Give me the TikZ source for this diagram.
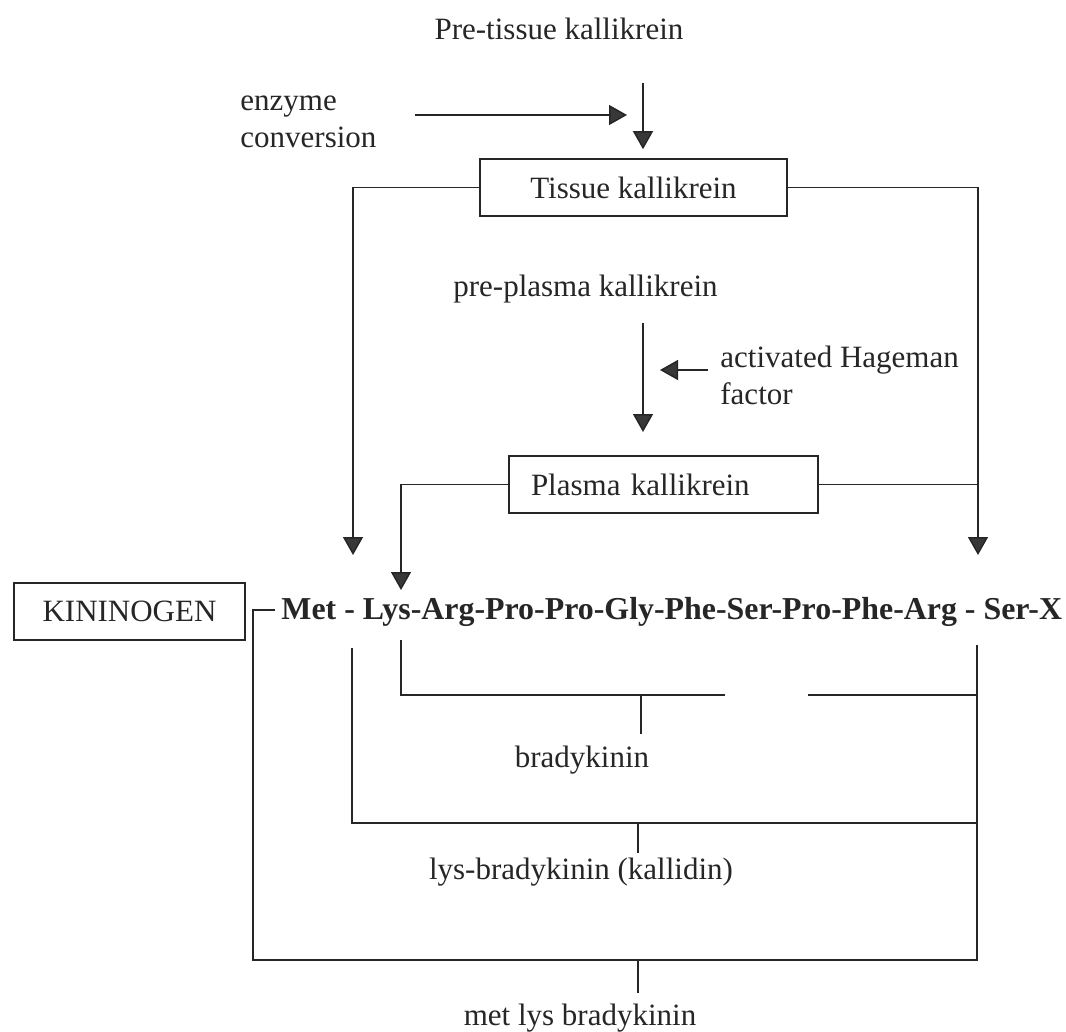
\documentclass[tikz,border=0pt]{standalone}
\usepackage{fontspec}
\setmainfont{Liberation Serif}
\usetikzlibrary{arrows.meta}
\definecolor{ink}{HTML}{262626}
\definecolor{tipfill}{HTML}{383838}
\tikzset{
  lbl/.style={inner sep=0pt, text=ink, font=\fontsize{15.5}{18.5}\selectfont},
  box/.style={draw=ink, line width=0.8pt, inner sep=0pt, minimum height=28.5pt},
  link/.style={draw=ink, line width=0.75pt},
  arr/.style={link, -{Triangle[width=10pt,length=9pt,fill=tipfill]}},
}
\begin{document}
\begin{tikzpicture}[x=0.5pt,y=-0.5pt]
\useasboundingbox (0,0) rectangle (1066,1032);

% labels
\node[lbl] (pretissue) at (559,29) {Pre-tissue kallikrein};
\node[lbl, anchor=west, align=left] (enzyme) at (240,122) {enzyme\\conversion};
\node[lbl] (preplasma) at (585.5,289) {pre-plasma kallikrein};
\node[lbl, anchor=west, align=left] (hageman) at (720,375) {activated Hageman\\factor};

% boxes
\node[box, lbl, draw=ink, minimum width=153.5pt, minimum height=28.5pt] (tissue) at (633.5,187.5) {Tissue kallikrein};
\node[box, lbl, draw=ink, minimum width=154.5pt, minimum height=28.5pt,
      text width=132.5pt, align=left, inner xsep=11pt] (plasma) at (663.5,484.5) {Plasma kallikrein};
\node[box, lbl, draw=ink, minimum width=115.5pt, minimum height=28.5pt] (kininogen) at (129.5,611.5) {KININOGEN};

% peptide chain
\node[lbl, anchor=west, font=\fontsize{15.95}{18.5}\selectfont\bfseries] (chain) at (281,612)
  {Met - Lys-Arg-Pro-Pro-Gly-Phe-Ser-Pro-Phe-Arg - Ser-X};

% product labels
\node[lbl] (brady) at (582,760) {bradykinin};
\node[lbl] (kallidin) at (581,872) {lys-bradykinin (kallidin)};
\node[lbl] (metlys) at (580,1018) {met lys bradykinin};

% free ends of connectors
\coordinate (ecA) at (415,115);
\coordinate (ecB) at (627,115);
\coordinate (ptA) at (643,83);
\coordinate (ppA) at (643,323);
\coordinate (ppB) at (643,432);
\coordinate (hgA) at (708,370);
\coordinate (hgB) at (660,370);
\coordinate (tkL) at (353,555);
\coordinate (tkR) at (978,555);
\coordinate (pkL) at (401,590);

% activation steps
\draw[arr] (ecA) -- (ecB);
\draw[arr, shorten >=4.5pt] (ptA) -- (ptA |- tissue.north);
\draw[arr] (ppA) -- (ppB);
\draw[arr] (hgA) -- (hgB);

% kallikreins acting on the chain
\draw[arr] (tissue.west) -| (tkL);
\draw[arr] (tissue.east) -| (tkR);
\draw[arr] (plasma.west) -| (pkL);
\draw[link] (plasma.east) -- (plasma.east -| tkR);

% cleavage brackets
\coordinate (oA) at (275,610);
\coordinate (oB) at (253,610);
\coordinate (oC) at (253,960);
\coordinate (oD) at (977,960);
\coordinate (oE) at (977,645);
\coordinate (oT) at (638,960);
\coordinate (mA) at (352,648);
\coordinate (mB) at (352,823);
\coordinate (mC) at (977,823);
\coordinate (mT) at (638,823);
\coordinate (iA) at (401,640);
\coordinate (iB) at (401,695);
\coordinate (iC) at (725,695);
\coordinate (iD) at (808,695);
\coordinate (iE) at (977,695);
\coordinate (iT) at (641,695);

\draw[link] (oA) -- (oB) -- (oC) -- (oD) -- (oE);
\draw[link] (oT) -- ++(0,33);
\draw[link] (mA) -- (mB) -- (mC);
\draw[link] (mT) -- ++(0,30);
\draw[link] (iA) -- (iB) -- (iC);
\draw[link] (iD) -- (iE);
\draw[link] (iT) -- ++(0,39);
\end{tikzpicture}
\end{document}
